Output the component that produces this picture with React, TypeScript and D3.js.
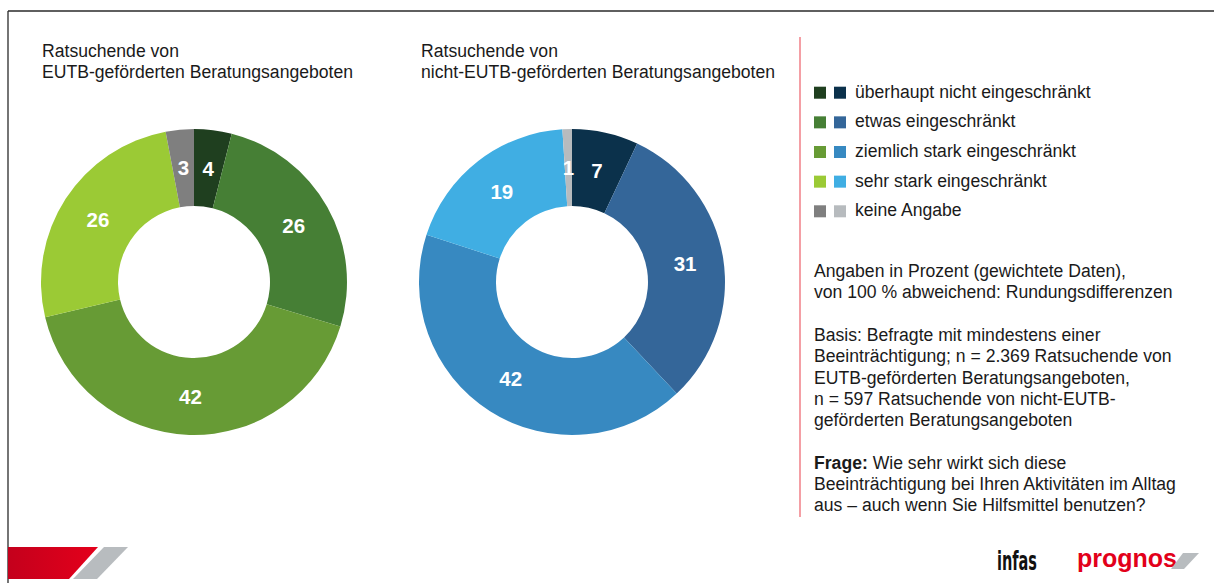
import React from "react";
import * as d3 from "d3";

const categories = [
  "überhaupt nicht eingeschränkt",
  "etwas eingeschränkt",
  "ziemlich stark eingeschränkt",
  "sehr stark eingeschränkt",
  "keine Angabe",
];
const eutbValues = [4, 26, 42, 26, 3];
const nonEutbValues = [7, 31, 42, 19, 1];
const greenColors = ["#1f3f1f", "#467f35", "#679b35", "#9bca35", "#7f7f7f"];
const blueColors = ["#0b314b", "#346699", "#3789c1", "#40aee3", "#b7bbbe"];
const titlesEutb = ["Ratsuchende von", "EUTB-geförderten Beratungsangeboten"];
const titlesNonEutb = ["Ratsuchende von", "nicht-EUTB-geförderten Beratungsangeboten"];
const noteLines = [
  "Angaben in Prozent (gewichtete Daten),",
  "von 100 % abweichend: Rundungsdifferenzen",
  "",
  "Basis: Befragte mit mindestens einer",
  "Beeinträchtigung; n = 2.369 Ratsuchende von",
  "EUTB-geförderten Beratungsangeboten,",
  "n = 597 Ratsuchende von nicht-EUTB-",
  "geförderten Beratungsangeboten",
  "",
];
const questionLines = [
  "Beeinträchtigung bei Ihren Aktivitäten im Alltag",
  "aus – auch wenn Sie Hilfsmittel benutzen?",
];

const FONT = "'Liberation Sans', Arial, sans-serif";
const FS = 17.6;

function Donut({ cx, cy, values, colors }: { cx: number; cy: number; values: number[]; colors: string[] }) {
  const pie = d3.pie<number>().sort(null).value((d) => d).startAngle(0).endAngle(2 * Math.PI);
  const arcs = pie(values);
  const arc = d3.arc<d3.PieArcDatum<number>>().innerRadius(76).outerRadius(153);
  return (
    <g transform={`translate(${cx},${cy})`}>
      {arcs.map((a, i) => (
        <path key={i} d={arc(a) || ""} fill={colors[i]} />
      ))}
      {arcs.map((a, i) => {
        const [x, y] = arc.centroid(a);
        return (
          <text
            key={"t" + i}
            x={x}
            y={y}
            dy="0.36em"
            textAnchor="middle"
            fill="#ffffff"
            fontWeight="bold"
            fontSize={20.5}
            fontFamily={FONT}
          >
            {a.data}
          </text>
        );
      })}
    </g>
  );
}

export default function App() {
  const rowY = d3.range(categories.length).map((i) => 86.7 + i * 29.65);
  return (
    <svg
      width={1214}
      height={583}
      style={{ position: "absolute", left: 0, top: 0, background: "#fff" }}
      fontFamily={FONT}
    >
      <defs>
        <linearGradient id="redg" x1="0" x2="1" y1="0" y2="0">
          <stop offset="0" stopColor="#c4001c" />
          <stop offset="1" stopColor="#e4001b" />
        </linearGradient>
      </defs>
      <rect x={0} y={0} width={1214} height={583} fill="#fff" />
      {/* frame */}
      <line x1={8} y1={11} x2={1214} y2={11} stroke="#2a2a2a" strokeWidth={1.3} />
      <line x1={8} y1={11} x2={8} y2={583} stroke="#2a2a2a" strokeWidth={1.3} />

      {/* titles */}
      {titlesEutb.map((t, i) => (
        <text key={"a" + i} x={42} y={57 + i * 20.5} fontSize={FS} fill="#1a1a1a">
          {t}
        </text>
      ))}
      {titlesNonEutb.map((t, i) => (
        <text key={"b" + i} x={421} y={57 + i * 20.5} fontSize={FS} fill="#1a1a1a">
          {t}
        </text>
      ))}

      <Donut cx={194} cy={282} values={eutbValues} colors={greenColors} />
      <Donut cx={572} cy={282} values={nonEutbValues} colors={blueColors} />

      {/* separator */}
      <line x1={800} y1={37} x2={800} y2={517} stroke="#f07f87" strokeWidth={1.5} />

      {/* legend */}
      {categories.map((c, i) => (
        <g key={"l" + i}>
          <rect x={814} y={rowY[i]} width={12} height={12} fill={greenColors[i]} />
          <rect x={834} y={rowY[i]} width={12} height={12} fill={blueColors[i]} />
          <text x={855} y={rowY[i] + 11} fontSize={FS} fill="#1a1a1a">
            {c}
          </text>
        </g>
      ))}

      {/* notes */}
      {noteLines.map((t, i) => (
        <text key={"n" + i} x={814} y={277 + i * 21.3} fontSize={FS} fill="#1a1a1a">
          {t}
        </text>
      ))}
      <text x={814} y={277 + 9 * 21.3} fontSize={FS} fill="#1a1a1a">
        <tspan fontWeight="bold">Frage:</tspan>
        <tspan> Wie sehr wirkt sich diese</tspan>
      </text>
      {questionLines.map((t, i) => (
        <text key={"q" + i} x={814} y={277 + (10 + i) * 21.3} fontSize={FS} fill="#1a1a1a">
          {t}
        </text>
      ))}

      {/* bottom-left brand bars */}
      <polygon points="8,547 98,547 69,579 8,579" fill="url(#redg)" />
      <polygon points="104,547 128,547 97,579 73,579" fill="#b8bcbf" />

      {/* logos */}
      <text
        x={997}
        y={570}
        fontSize={27}
        fontWeight="bold"
        fontFamily="'Liberation Sans Narrow', 'DejaVu Sans Condensed', sans-serif"
        fill="#111"
        textLength={40}
        lengthAdjust="spacingAndGlyphs"
      >
        infas
      </text>
      <text
        x={1077}
        y={567}
        fontSize={25}
        fontWeight="bold"
        fill="#e2001a"
        textLength={100}
        lengthAdjust="spacingAndGlyphs"
      >
        prognos
      </text>
      <polygon points="1183,553 1199,553 1184,569 1171,569" fill="#b8bcbf" />
    </svg>
  );
}
